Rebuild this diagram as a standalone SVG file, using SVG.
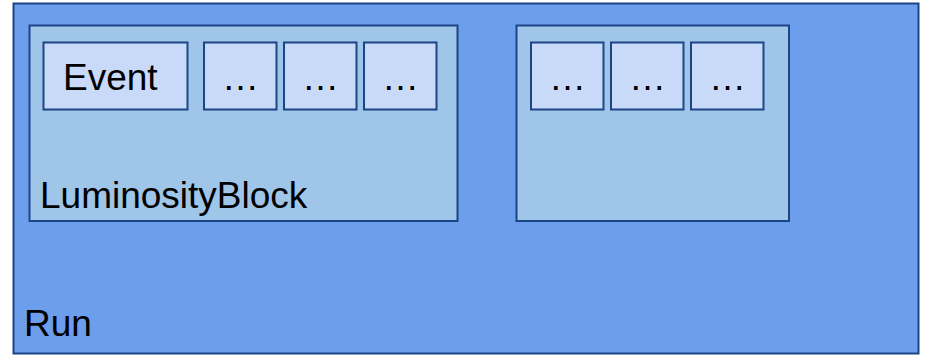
<svg xmlns="http://www.w3.org/2000/svg" width="926" height="355" viewBox="0 0 926 355">
  <style>
    .run { fill: #6d9eeb; stroke: #1c4587; stroke-width: 2; }
    .lumi { fill: #9fc5e8; stroke: #1c4587; stroke-width: 2; }
    .evt { fill: #c9daf8; stroke: #1c4587; stroke-width: 2; }
    text { font-family: "Liberation Sans", Arial, sans-serif; font-size: 37px; fill: #000000; }
    .mid { text-anchor: middle; }
  </style>
  <rect width="926" height="355" fill="#ffffff"/>

  <g id="run">
    <rect class="run" x="13.5" y="3.5" width="905" height="350"/>
    <text x="24" y="336">Run</text>
  </g>

  <g id="lumiblock-1">
    <rect class="lumi" x="29.5" y="25.5" width="428" height="195.5"/>
    <text x="40" y="208">LuminosityBlock</text>
  </g>

  <g id="lumiblock-2">
    <rect class="lumi" x="516.5" y="25.5" width="272.5" height="195.5"/>
  </g>

  <g id="event">
    <rect class="evt" x="43.5" y="42.5" width="144" height="67"/>
    <text x="63" y="90">Event</text>
  </g>
  <g id="event-2">
    <rect class="evt" x="204" y="42.5" width="72.5" height="67"/>
    <text class="mid" x="240.5" y="90">…</text>
  </g>
  <g id="event-3">
    <rect class="evt" x="284" y="42.5" width="72.5" height="67"/>
    <text class="mid" x="320.5" y="90">…</text>
  </g>
  <g id="event-4">
    <rect class="evt" x="364" y="42.5" width="72.5" height="67"/>
    <text class="mid" x="400.5" y="90">…</text>
  </g>
  <g id="event-5">
    <rect class="evt" x="531" y="42.5" width="72.5" height="67"/>
    <text class="mid" x="567.5" y="90">…</text>
  </g>
  <g id="event-6">
    <rect class="evt" x="611" y="42.5" width="72.5" height="67"/>
    <text class="mid" x="647.5" y="90">…</text>
  </g>
  <g id="event-7">
    <rect class="evt" x="691" y="42.5" width="72.5" height="67"/>
    <text class="mid" x="727.5" y="90">…</text>
  </g>

  <g id="connectors"></g>
</svg>
